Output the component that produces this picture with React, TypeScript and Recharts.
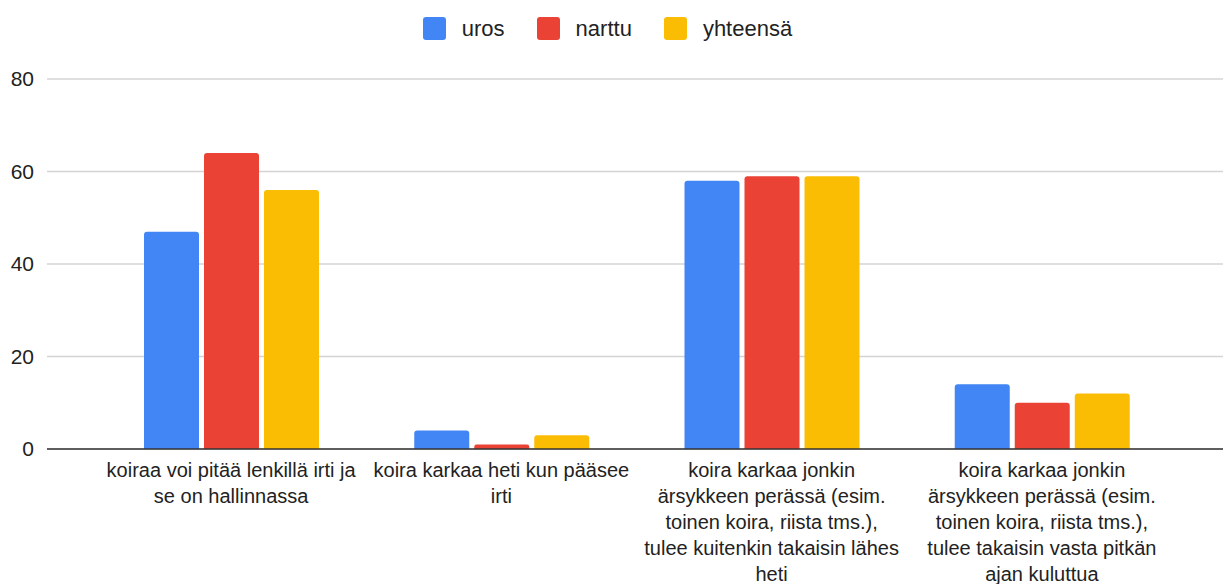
import React from "react";
import { BarChart, Bar, XAxis, YAxis, CartesianGrid, Legend } from "recharts";

const categories = [
  "koiraa voi pitää lenkillä irti ja\nse on hallinnassa",
  "koira karkaa heti kun pääsee\nirti",
  "koira karkaa jonkin\närsykkeen perässä (esim.\ntoinen koira, riista tms.),\ntulee kuitenkin takaisin lähes\nheti",
  "koira karkaa jonkin\närsykkeen perässä (esim.\ntoinen koira, riista tms.),\ntulee takaisin vasta pitkän\najan kuluttua",
];
const uros = [47, 4, 58, 14];
const narttu = [64, 1, 59, 10];
const yhteensa = [56, 3, 59, 12];
const yTicks = [0, 20, 40, 60, 80];

const seriesList = [
  { key: "uros", name: "uros", color: "#4285F4" },
  { key: "narttu", name: "narttu", color: "#EA4335" },
  { key: "yhteensa", name: "yhteensä", color: "#FBBC04" },
];

const data = categories.map((name, i) => ({
  name,
  uros: uros[i],
  narttu: narttu[i],
  yhteensa: yhteensa[i],
}));

const FONT = "'Liberation Sans', Arial, sans-serif";

function CategoryTick(props: any) {
  const { x, y, payload } = props;
  const lines = String(payload.value).split("\n");
  return (
    <text x={x} y={y} textAnchor="middle" fill="#222" fontSize={20} fontFamily={FONT}>
      {lines.map((line, i) => (
        <tspan key={i} x={x} dy={i === 0 ? 20 : 26}>
          {line}
        </tspan>
      ))}
    </text>
  );
}

function LegendContent() {
  return (
    <div
      style={{
        height: 44,
        display: "flex",
        justifyContent: "center",
        alignItems: "flex-start",
        gap: 32,
        paddingRight: 8,
        boxSizing: "border-box",
        fontFamily: FONT,
        fontSize: 22,
        color: "#222",
      }}
    >
      {seriesList.map((s) => (
        <div key={s.key} style={{ display: "flex", alignItems: "center", gap: 16, height: 23 }}>
          <span
            style={{
              display: "inline-block",
              width: 23,
              height: 23,
              borderRadius: 3,
              background: s.color,
            }}
          />
          <span style={{ lineHeight: "23px" }}>{s.name}</span>
        </div>
      ))}
    </div>
  );
}

export default function App() {
  return (
    <div style={{ position: "absolute", left: 0, top: 0, width: 1223, height: 584, background: "#fff" }}>
      <BarChart
        width={1223}
        height={584}
        data={data}
        margin={{ top: 35, right: 0, left: 0, bottom: 0 }}
        barCategoryGap={48}
        barGap={5}
      >
        <Legend verticalAlign="top" content={<LegendContent />} wrapperStyle={{ top: 17, left: 0, width: 1223 }} />
        <CartesianGrid vertical={false} stroke="#d4d4d4" strokeWidth={1.5} />
        <XAxis
          dataKey="name"
          interval={0}
          tickLine={false}
          axisLine={{ stroke: "#333", strokeWidth: 1.5 }}
          padding={{ left: 49, right: 46 }}
          height={135}
          tick={<CategoryTick />}
        />
        <YAxis
          width={47}
          domain={[0, 80]}
          ticks={yTicks}
          axisLine={false}
          tickLine={false}
          tickMargin={7}
          tick={{ fill: "#222", fontSize: 21, fontFamily: FONT }}
        />
        {seriesList.map((s) => (
          <Bar
            key={s.key}
            dataKey={s.key}
            name={s.name}
            fill={s.color}
            radius={[3, 3, 0, 0]}
            isAnimationActive={false}
          />
        ))}
      </BarChart>
    </div>
  );
}
